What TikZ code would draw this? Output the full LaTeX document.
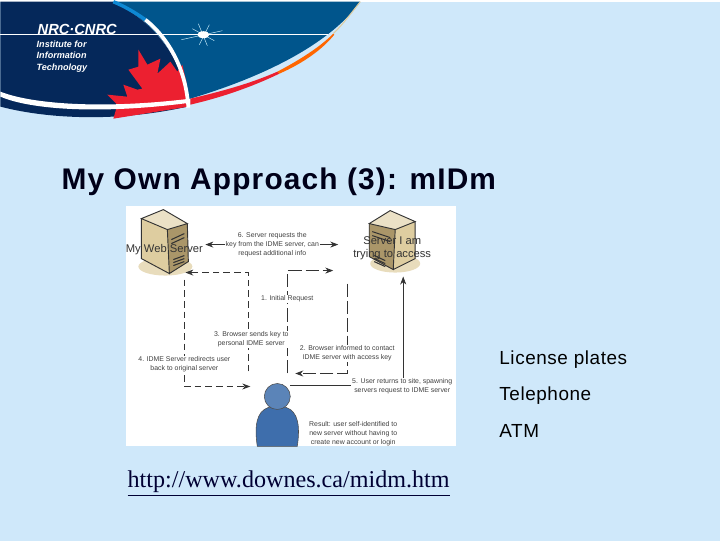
\documentclass[tikz,border=0pt]{standalone}
\usepackage{fontspec}
\setmainfont{Liberation Sans}
\newfontfamily\urlfont{Liberation Serif}
\newfontfamily\titlefont[LetterSpace=3.9]{Liberation Sans}
\newfontfamily\listfont[LetterSpace=3.0]{Liberation Sans}
\usetikzlibrary{arrows.meta}
\definecolor{slidebg}{RGB}{207,232,250}
\definecolor{bandblue}{RGB}{0,85,140}
\definecolor{navyblue}{RGB}{5,40,90}
\definecolor{leafred}{RGB}{236,32,48}
\definecolor{tanface}{RGB}{222,205,160}
\definecolor{tandark}{RGB}{170,150,105}
\definecolor{personblue}{RGB}{62,110,172}
\begin{document}
\begin{tikzpicture}[
  x=0.75pt, y=-0.75pt,
  every node/.style={inner sep=0pt, align=center},
  small/.style={font=\fontsize{5.2}{6.6}\selectfont, text=black!75, fill=white, inner sep=0.6pt},
  srvlabel/.style={font=\fontsize{8.4}{10}\selectfont, text=black!80},
  bullet/.style={font=\listfont\fontsize{14.2}{16}\selectfont, anchor=west},
  logotext/.style={font=\fontsize{6.8}{7}\bfseries\itshape\selectfont, text=white, anchor=west},
  flow/.style={draw=black!80, >={Stealth[length=6pt,width=4.5pt]}, line width=0.6pt},
  dashflow/.style={flow, dash pattern=on 5pt off 3pt},
  longflow/.style={flow, dash pattern=on 10pt off 3pt}
]
\fill[slidebg] (0,0) rectangle (720,540);
% header
\fill[bandblue] (112,0) -- (360,0) .. controls (335,35) and (280,70) .. (190,97) -- (187,100) .. controls (185,60) and (155,20) .. (112,0);
\fill[navyblue] (0,0) -- (112,0) .. controls (155,20) and (185,60) .. (187,105) .. controls (120,120) and (50,118) .. (0,105) -- cycle;
\fill[leafred] (138,48) -- (147,63) -- (160,57) -- (157,72) -- (170,60) -- (177,70) -- (182,63) -- (186,80) -- (188,105) -- (113,117) -- (117,103) -- (107,93) -- (127,95) -- (123,83) -- (137,88) -- (142,87) -- (128,68) -- (138,65) -- cycle;
\fill[white] (0,90) .. controls (30,102) and (100,108) .. (190,97) -- (190,101) .. controls (100,113) and (30,108) .. (0,95) -- cycle;
\fill[leafred] (190,97) .. controls (220,90) and (250,82) .. (277,70) -- (279,72) .. controls (250,86) and (220,96) .. (190,103) -- cycle;
\fill[orange!80!red] (277,70) .. controls (300,58) and (320,45) .. (333,32) -- (334,33) .. controls (322,48) and (302,62) .. (279,72) -- cycle;
\draw[tanface, line width=0.8pt] (333,32) .. controls (345,20) and (352,10) .. (360,0);
\draw[white, line width=0.7pt] (0,33) -- (328,33);
\draw[cyan!70!blue, line width=2.6pt] (113,0) .. controls (125,5) and (135,11) .. (145,18);
\draw[white, line width=2.8pt] (145,18) .. controls (170,38) and (186,70) .. (188,106);
\draw[white!80!cyan, line width=0.35pt] (181,38) -- (222,29) (198,22) -- (207,44) (209,23) -- (199,43) (192,27) -- (214,39);
\fill[white] (203,33) ellipse (6 and 3.5);
\node[font=\fontsize{11}{12}\bfseries\itshape\selectfont, text=white, anchor=west] (nrc) at (37,28) {NRC·CNRC};
\node[logotext] (inst) at (36,43) {Institute for};
\node[logotext] (info) at (36,54) {Information};
\node[logotext] (tech) at (36,66) {Technology};
% title and side list
\node[font=\titlefont\fontsize{22.4}{24}\bfseries\selectfont, anchor=west, text=black!90!blue] (title) at (61,180) {My Own Approach (3): mIDm};
\fill[white] (126,204) rectangle (456,445);
\node[bullet] (plates) at (499,358) {License plates};
\node[bullet] (phone) at (499,394) {Telephone};
\node[bullet] (atm) at (499,430) {ATM};
\node[font=\urlfont\fontsize{18.1}{20}\selectfont, anchor=west, text=black!80!blue] (link) at (127,482) {\underline{http://www.downes.ca/midm.htm}};
% left server
\fill[tanface!70] (165,265) ellipse (27 and 9);
\fill[tanface] (141,217) -- (167,228) -- (169,272) -- (141,257) -- cycle;
\fill[tandark] (167,228) -- (187,222) -- (188,260) -- (169,272) -- cycle;
\fill[tanface!60] (141,217) -- (163,208) -- (187,222) -- (167,228) -- cycle;
\draw[black!80, line width=0.7pt] (141,217) -- (163,208) -- (187,222) -- (167,228) -- cycle (167,228) -- (169,272) -- (141,257) -- (141,217) (187,222) -- (188,260) -- (169,272);
\draw[black!80, line width=0.8pt] (171,238) -- (184,232) (171,242) -- (184,236) (173,258) -- (184,254) (173,261) -- (184,257) (173,264) -- (184,260);
% right server
\fill[tanface!70] (395,262) ellipse (25 and 9);
\fill[tandark] (369,222) -- (395,228) -- (393,268) -- (369,255) -- cycle;
\fill[tanface] (395,228) -- (415,220) -- (415,257) -- (393,268) -- cycle;
\fill[tanface!60] (369,222) -- (390,209) -- (415,220) -- (395,228) -- cycle;
\draw[black!80, line width=0.7pt] (369,222) -- (390,209) -- (415,220) -- (395,228) -- cycle (395,228) -- (393,268) -- (369,255) -- (369,222) (415,220) -- (415,257) -- (393,268);
\draw[black!80, line width=0.8pt] (372,230) -- (390,236) (372,234) -- (390,240) (374,254) -- (385,259) (374,257) -- (385,262) (374,260) -- (385,265);
% person
\filldraw[fill=personblue, draw=black!70, line width=0.4pt] (257,445) .. controls (254,425) and (256,410) .. (268,406) -- (286,406) .. controls (298,410) and (300,425) .. (297,445) -- cycle;
\filldraw[fill=personblue!85!white, draw=black!70, line width=0.4pt] (277,395) circle (13);
% corners of the connectors
\coordinate (webright) at (205,243);
\coordinate (accessleft) at (338,243);
\coordinate (webunder) at (185,271);
\coordinate (keyturn) at (248,271);
\coordinate (keystart) at (248,370);
\coordinate (backstart) at (184,278);
\coordinate (backturn) at (184,385);
\coordinate (backend) at (250,385);
\coordinate (reqstart) at (287,372);
\coordinate (reqturn) at (287,269);
\coordinate (reqend) at (333,269);
\coordinate (infostart) at (347,282);
\coordinate (infoturn) at (347,372);
\coordinate (infoend) at (295,372);
\coordinate (retstart) at (290,384);
\coordinate (retturn) at (403,384);
\coordinate (retend) at (403,275);
\draw[flow, <->] (webright) -- (accessleft);
\draw[dashflow, ->] (keystart) -- (keyturn) -- (webunder);
\draw[dashflow, ->] (backstart) -- (backturn) -- (backend);
\draw[longflow, ->] (reqstart) -- (reqturn) -- (reqend);
\draw[longflow, ->] (infostart) -- (infoturn) -- (infoend);
\draw[flow, line width=0.4pt, ->] (retstart) -- (retturn) -- (retend);
% labels
\node[srvlabel] (myweb) at (164,248) {My Web Server};
\node[srvlabel] (access) at (392,247) {Server I am\\trying to access};
\node[small] (step6) at (272,243) {6. Server requests the\\key from the IDME server, can\\request additional info};
\node[small] (step1) at (287,297) {1. Initial Request};
\node[small] (step3) at (251,338) {3. Browser sends key to\\personal IDME server};
\node[small] (step2) at (347,352) {2. Browser informed to contact\\IDME server with access key};
\node[small] (step4) at (184,363) {4. IDME Server redirects user\\back to original server};
\node[small] (step5) at (402,385) {5. User returns to site, spawning\\servers request to IDME server};
\node[small] (result) at (353,432) {Result: user self-identified to\\new server without having to\\create new account or login};
\end{tikzpicture}
\end{document}
